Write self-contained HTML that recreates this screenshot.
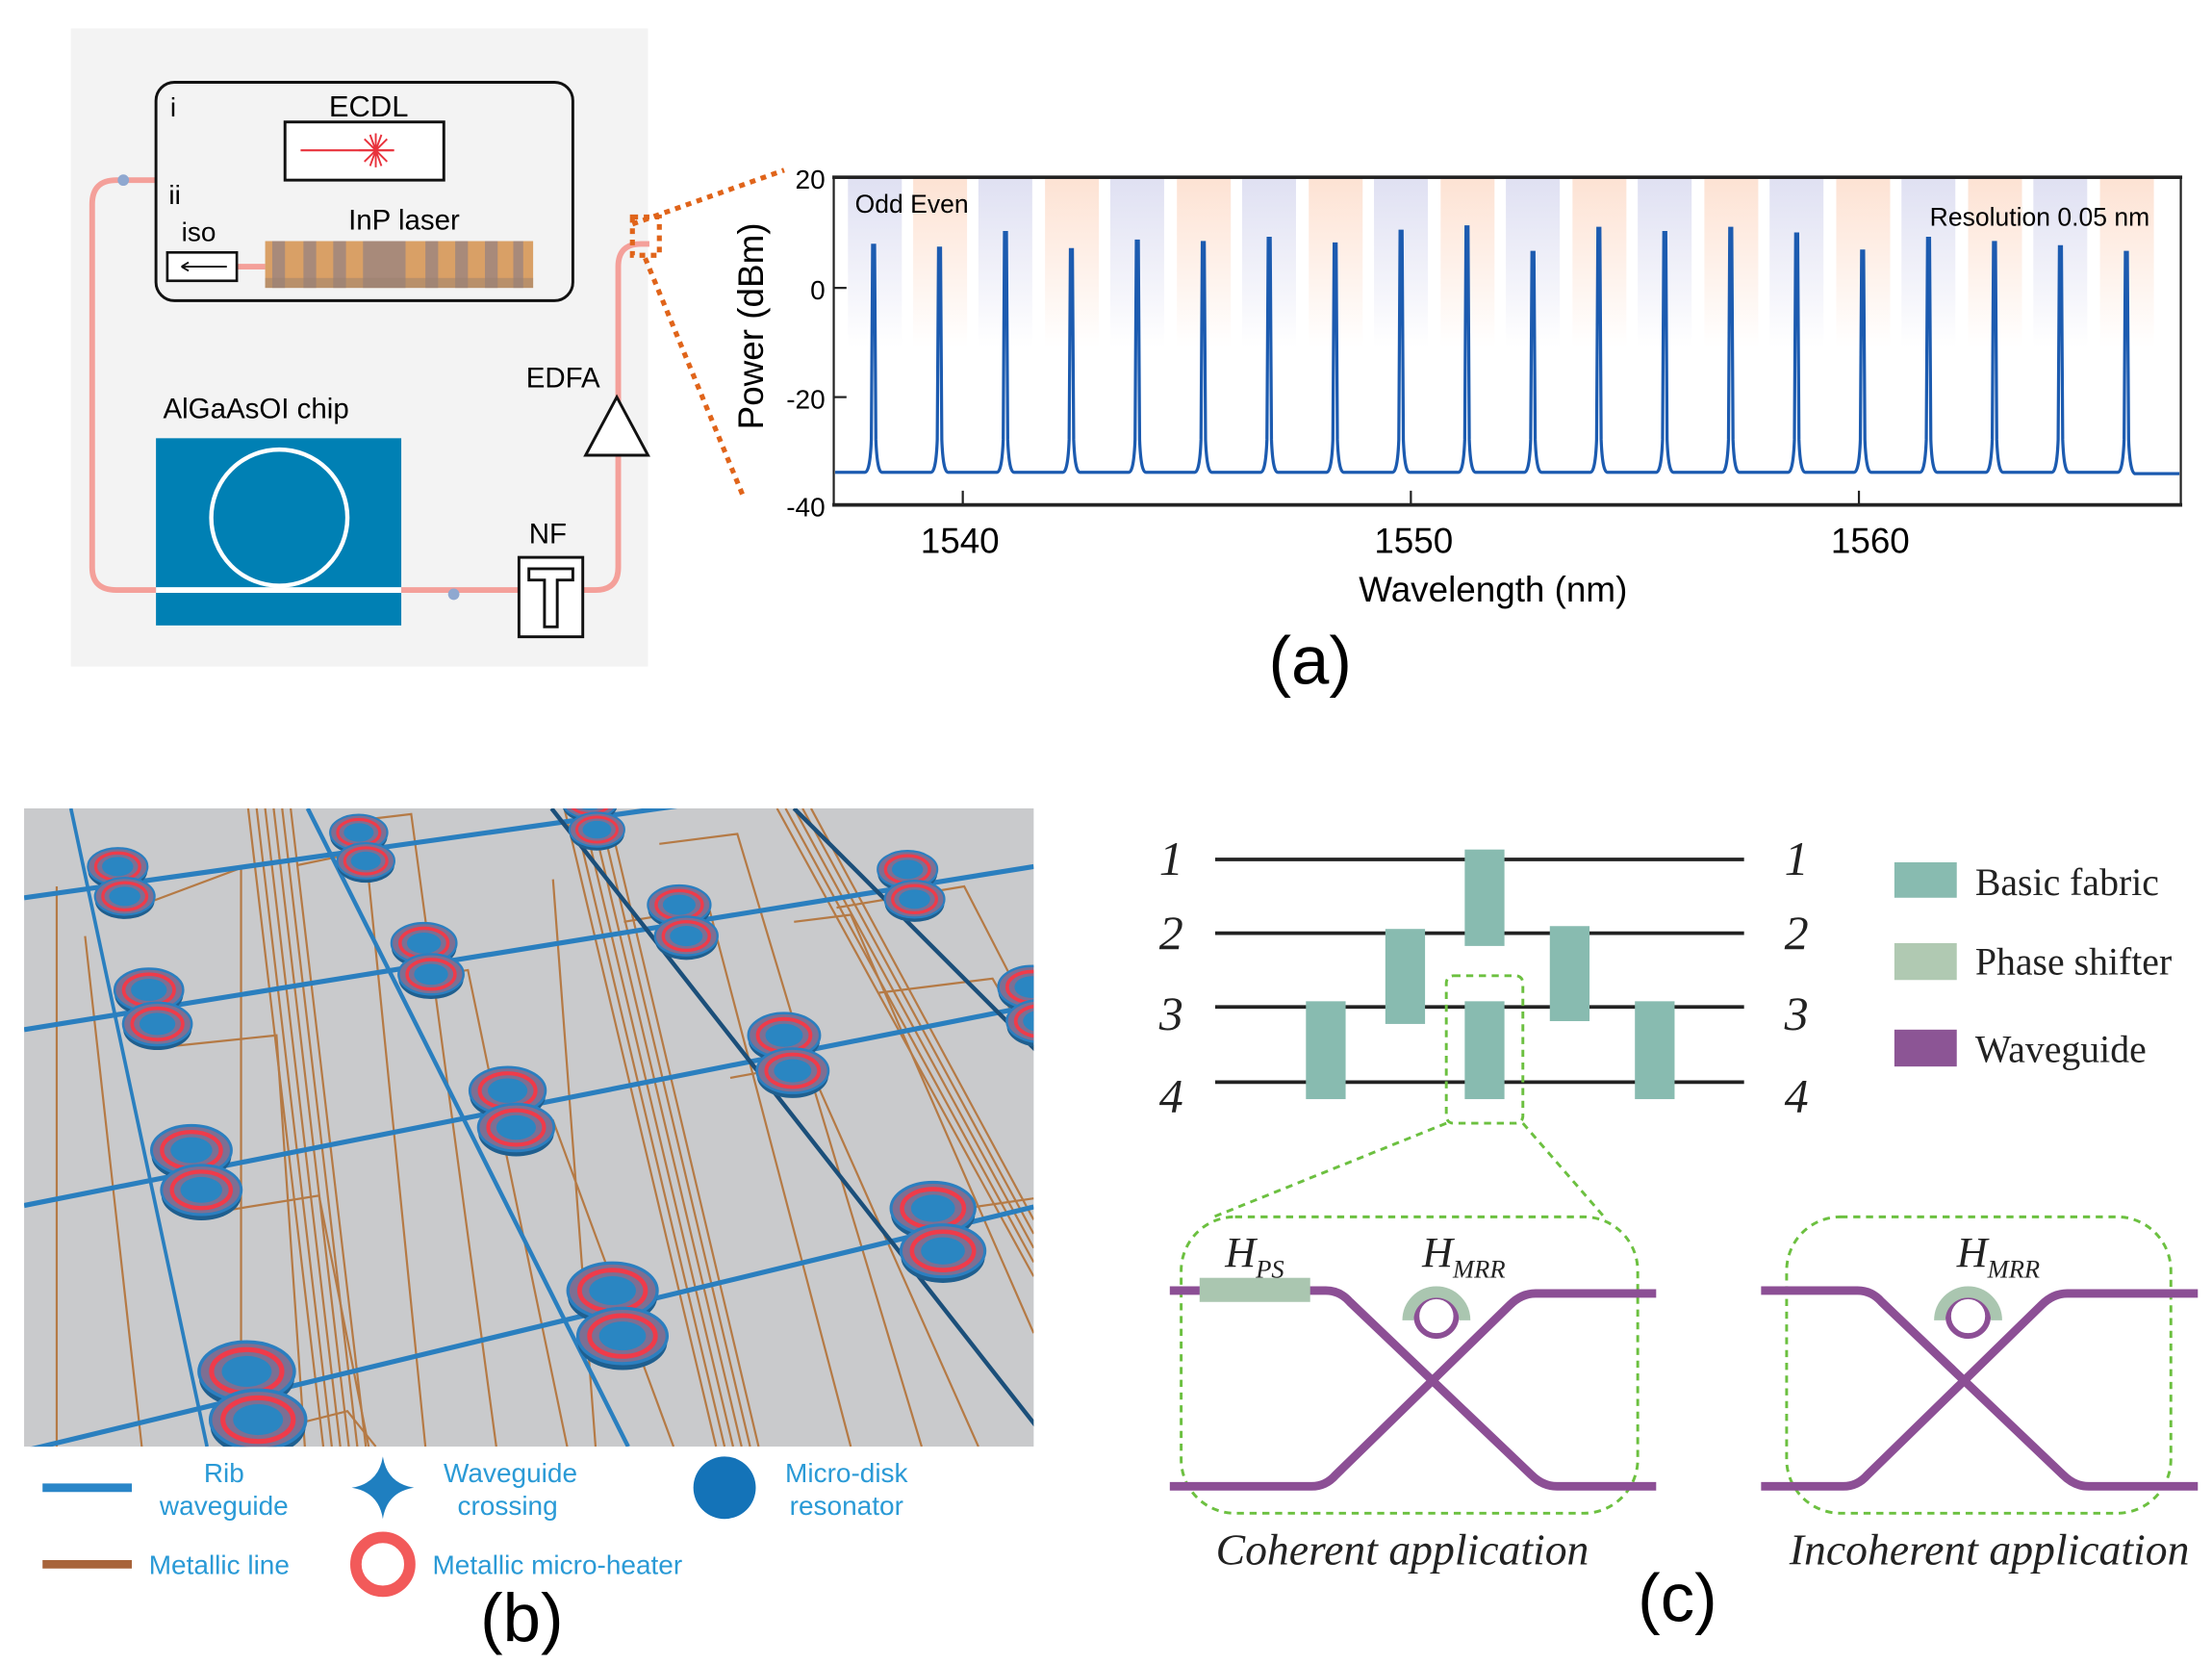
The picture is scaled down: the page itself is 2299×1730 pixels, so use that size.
<!DOCTYPE html>
<html><head><meta charset="utf-8"><style>
html,body{margin:0;padding:0;background:#fff}
svg{display:block;font-family:"Liberation Sans",sans-serif}
.serif{font-family:"Liberation Serif",serif;font-style:italic}
.rom{font-family:"Liberation Serif",serif}
</style></head><body>
<svg width="2299" height="1730" viewBox="0 0 1560 1174" preserveAspectRatio="none" xmlns="http://www.w3.org/2000/svg">
<defs>
<linearGradient id="lav" x1="0" y1="0" x2="0" y2="1"><stop offset="0" stop-color="#dfe0f2"/><stop offset="1" stop-color="#dfe0f2" stop-opacity="0"/></linearGradient>
<linearGradient id="pch" x1="0" y1="0" x2="0" y2="1"><stop offset="0" stop-color="#fde2d3"/><stop offset="1" stop-color="#fde2d3" stop-opacity="0"/></linearGradient>
<clipPath id="bclip"><rect x="17" y="570" width="712" height="450"/></clipPath>
<g id="disk">
<ellipse cx="0" cy="3" rx="21" ry="13" fill="#1f5f8f"/>
<ellipse cx="0" cy="0" rx="21" ry="13" fill="#7d6f93" stroke="#2b7fc0" stroke-width="1.5"/>
<ellipse cx="0" cy="0" rx="15.5" ry="9.6" fill="none" stroke="#ef3b4a" stroke-width="2.2"/>
<ellipse cx="0" cy="0" rx="11" ry="6.8" fill="#2a86c2"/>
</g>
</defs>

<!-- Panel a left -->
<rect x="50" y="20" width="407" height="450" fill="#f3f3f3"/>
<path d="M110 127 L82 127 Q65 127 65 144 L65 400 Q65 416 82 416 L366 416 M411 416 L420 416 Q436 416 436 400 L436 188 Q436 172 452 172 L458 172" fill="none" stroke="#f4a09a" stroke-width="4"/>
<line x1="167" y1="188" x2="187" y2="188" stroke="#f4a09a" stroke-width="4"/>
<circle cx="87" cy="127" r="4" fill="#8fa8d0"/>
<circle cx="320" cy="419" r="4" fill="#8fa8d0"/>
<rect x="110" y="58" width="294" height="154" rx="13" fill="none" stroke="#111" stroke-width="2"/>
<text x="120" y="82" font-size="19">i</text>
<text x="260" y="82" font-size="21" text-anchor="middle">ECDL</text>
<rect x="201" y="86" width="112" height="41" fill="#fff" stroke="#111" stroke-width="2"/>
<line x1="212" y1="106" x2="278" y2="106" stroke="#e8323c" stroke-width="1.5"/>
<g stroke="#e8323c" stroke-width="1.3"><line x1="253" y1="106" x2="277" y2="106"/><line x1="265" y1="94" x2="265" y2="118"/><line x1="257" y1="98" x2="273" y2="114"/><line x1="257" y1="114" x2="273" y2="98"/><line x1="261" y1="95" x2="269" y2="117"/><line x1="269" y1="95" x2="261" y2="117"/></g>
<text x="119" y="144" font-size="19">ii</text>
<text x="128" y="170" font-size="19">iso</text>
<text x="285" y="162" font-size="20" text-anchor="middle">InP laser</text>
<rect x="118" y="178" width="49" height="20" fill="#fff" stroke="#111" stroke-width="1.8"/>
<line x1="128" y1="188" x2="160" y2="188" stroke="#111" stroke-width="1.3"/><path d="M128 188 L133 185 M128 188 L133 191" stroke="#111" stroke-width="1.3"/>
<rect x="187" y="170" width="189" height="33" fill="#d9a066"/>
<g fill="#a88a7a"><rect x="192" y="170" width="9" height="33"/><rect x="214" y="170" width="9" height="33"/><rect x="235" y="170" width="9" height="33"/><rect x="256" y="170" width="30" height="33"/><rect x="300" y="170" width="9" height="33"/><rect x="321" y="170" width="9" height="33"/><rect x="342" y="170" width="9" height="33"/><rect x="362" y="170" width="7" height="33"/></g>
<rect x="187" y="196" width="189" height="7" fill="#9a7f6e" opacity="0.5"/>
<text x="115" y="295" font-size="20">AlGaAsOI chip</text>
<rect x="110" y="309" width="173" height="132" fill="#0080b4"/>
<circle cx="197" cy="365" r="48" fill="none" stroke="#fff" stroke-width="3"/>
<line x1="110" y1="416" x2="283" y2="416" stroke="#fff" stroke-width="4"/>
<text x="371" y="273" font-size="20">EDFA</text>
<path d="M435 280 L413 321 L457 321 Z" fill="#fff" stroke="#111" stroke-width="2"/>
<text x="373" y="383" font-size="20">NF</text>
<rect x="366" y="393" width="45" height="56" fill="#fff" stroke="#111" stroke-width="2"/>
<path d="M373 401 L404 401 L404 409 L393 409 L393 442 L384 442 L384 409 L373 409 Z" fill="none" stroke="#111" stroke-width="2"/>
<g fill="none" stroke="#e0641a" stroke-width="3.5" stroke-dasharray="4 4">
<rect x="446" y="153" width="19" height="27"/>
<line x1="446" y1="158" x2="553" y2="120"/>
<line x1="455" y1="182" x2="525" y2="352"/>
</g>

<!-- Plot -->
<g>
<rect x="598" y="125" width="38" height="120" fill="url(#lav)"/><rect x="644" y="125" width="38" height="120" fill="url(#pch)"/>
<rect x="690" y="125" width="38" height="120" fill="url(#lav)"/><rect x="737" y="125" width="38" height="120" fill="url(#pch)"/>
<rect x="783" y="125" width="38" height="120" fill="url(#lav)"/><rect x="830" y="125" width="38" height="120" fill="url(#pch)"/>
<rect x="876" y="125" width="38" height="120" fill="url(#lav)"/><rect x="923" y="125" width="38" height="120" fill="url(#pch)"/>
<rect x="969" y="125" width="38" height="120" fill="url(#lav)"/><rect x="1016" y="125" width="38" height="120" fill="url(#pch)"/>
<rect x="1062" y="125" width="38" height="120" fill="url(#lav)"/><rect x="1109" y="125" width="38" height="120" fill="url(#pch)"/>
<rect x="1155" y="125" width="38" height="120" fill="url(#lav)"/><rect x="1202" y="125" width="38" height="120" fill="url(#pch)"/>
<rect x="1248" y="125" width="38" height="120" fill="url(#lav)"/><rect x="1295" y="125" width="38" height="120" fill="url(#pch)"/>
<rect x="1341" y="125" width="38" height="120" fill="url(#lav)"/><rect x="1388" y="125" width="38" height="120" fill="url(#pch)"/>
<rect x="1434" y="125" width="38" height="120" fill="url(#lav)"/><rect x="1481" y="125" width="38" height="120" fill="url(#pch)"/>
</g>
<path fill="none" stroke="#1c5bb0" stroke-width="2.2" d="M589 333
L610 333 Q613.6 333 614.5 310 L615.4 173 L616.8 173 L617.7 310 Q618.6 333 622 333
L656.6 333 Q660.1 333 661 310 L661.9 175 L663.3 175 L664.2 310 Q665.1 333 668.6 333
L703.1 333 Q706.6 333 707.5 310 L708.4 164 L709.8 164 L710.7 310 Q711.6 333 715.1 333
L749.6 333 Q753.1 333 754 310 L754.9 176 L756.3 176 L757.2 310 Q758.1 333 761.6 333
L796.1 333 Q799.6 333 800.5 310 L801.4 170 L802.8 170 L803.7 310 Q804.6 333 808.1 333
L842.6 333 Q846.1 333 847 310 L847.9 171 L849.3 171 L850.2 310 Q851.1 333 854.6 333
L889.1 333 Q892.6 333 893.5 310 L894.4 168 L895.8 168 L896.7 310 Q897.6 333 901.1 333
L935.6 333 Q939.1 333 940 310 L940.9 172 L942.3 172 L943.2 310 Q944.1 333 947.6 333
L982.1 333 Q985.6 333 986.5 310 L987.4 163 L988.8 163 L989.7 310 Q990.6 333 994.1 333
L1028.6 333 Q1032.1 333 1033 310 L1033.9 160 L1035.3 160 L1036.2 310 Q1037.1 333 1040.6 333
L1075.1 333 Q1078.6 333 1079.5 310 L1080.4 178 L1081.8 178 L1082.7 310 Q1083.6 333 1087.1 333
L1121.6 333 Q1125.1 333 1126 310 L1126.9 161 L1128.3 161 L1129.2 310 Q1130.1 333 1133.6 333
L1168.1 333 Q1171.6 333 1172.5 310 L1173.4 164 L1174.8 164 L1175.7 310 Q1176.6 333 1180.1 333
L1214.6 333 Q1218.1 333 1219 310 L1219.9 161 L1221.3 161 L1222.2 310 Q1223.1 333 1226.6 333
L1261.1 333 Q1264.6 333 1265.5 310 L1266.4 165 L1267.8 165 L1268.7 310 Q1269.6 333 1273.1 333
L1307.6 333 Q1311.1 333 1312 310 L1312.9 177 L1314.3 177 L1315.2 310 Q1316.1 333 1319.6 333
L1354.1 333 Q1357.6 333 1358.5 310 L1359.4 168 L1360.8 168 L1361.7 310 Q1362.6 333 1366.1 333
L1400.6 333 Q1404.1 333 1405 310 L1405.9 171 L1407.3 171 L1408.2 310 Q1409.1 333 1412.6 333
L1447.1 333 Q1450.6 333 1451.5 310 L1452.4 174 L1453.8 174 L1454.7 310 Q1455.6 333 1459.1 333
L1493.6 333 Q1497.1 333 1498 310 L1498.9 178 L1500.3 178 L1501.2 310 Q1502.1 333 1505.6 334
L1537 334"/>
<line x1="587" y1="125" x2="1539" y2="125" stroke="#222" stroke-width="2.5"/>
<line x1="587" y1="356" x2="1539" y2="356" stroke="#222" stroke-width="2.5"/>
<line x1="588" y1="125" x2="588" y2="356" stroke="#222" stroke-width="1.5"/>
<line x1="1538" y1="125" x2="1538" y2="356" stroke="#222" stroke-width="1.5"/>
<g stroke="#222" stroke-width="1.5"><line x1="588" y1="203" x2="597" y2="203"/><line x1="588" y1="280" x2="597" y2="280"/><line x1="679" y1="356" x2="679" y2="346"/><line x1="995" y1="356" x2="995" y2="346"/><line x1="1311" y1="356" x2="1311" y2="346"/></g>
<g font-size="19" text-anchor="end"><text x="582" y="133">20</text><text x="582" y="211">0</text><text x="582" y="288">-20</text><text x="582" y="364">-40</text></g>
<text x="603" y="150" font-size="18">Odd Even</text>
<text x="1516" y="159" font-size="18" text-anchor="end">Resolution 0.05 nm</text>
<g font-size="25" text-anchor="middle"><text x="677" y="390">1540</text><text x="997" y="390">1550</text><text x="1319" y="390">1560</text></g>
<text x="1053" y="424" font-size="25" text-anchor="middle">Wavelength (nm)</text>
<text transform="translate(538,230) rotate(-90)" font-size="25" text-anchor="middle">Power (dBm)</text>
<text x="924" y="482" font-size="48" text-anchor="middle">(a)</text>

<!-- Panel b -->
<rect x="17" y="570" width="712" height="450" fill="#c9cacc"/>
<g clip-path="url(#bclip)">
<g fill="none" stroke="#b57a45" stroke-width="1.5">
<path d="M175 570 L228 1020 M181 570 L234 1020 M187 570 L240 1020 M193 570 L246 1020 M199 570 L252 1020 M205 570 L258 1020"/>
<path d="M398 570 L505 1020 M404 570 L511 1020 M410 570 L517 1020 M416 570 L523 1020 M422 570 L529 1020 M428 570 L535 1020"/>
<path d="M548 570 L729 900 M554 570 L729 890 M560 570 L729 880 M566 570 L729 870 M572 570 L729 860"/>
<path d="M40 625 L40 1020 M60 660 L100 1020 M95 640 L170 612 L170 1020 M118 738 L195 730 L215 1020 M150 855 L225 843 L260 1020 M185 1010 L245 995 L265 1020"/>
<path d="M210 610 L258 600 L300 1020 M240 580 L290 574 L350 1020 M290 690 L330 684 L400 1020 M345 800 L390 790 L475 1020 M390 620 L420 1020"/>
<path d="M440 650 L500 640 L600 1020 M465 595 L520 588 L650 1020 M515 760 L570 750 L690 1020 M590 640 L680 625 L729 720 M620 700 L700 690 L729 740 M660 855 L729 845"/>
<path d="M560 650 L600 645 L729 940"/>
</g>
<g fill="none" stroke="#2a7fbf" stroke-width="3.5">
<line x1="17" y1="633" x2="729" y2="533"/>
<line x1="17" y1="726" x2="729" y2="611"/>
<line x1="17" y1="850" x2="729" y2="709"/>
<line x1="17" y1="1023" x2="729" y2="851"/>
<line x1="50" y1="570" x2="146" y2="1020" stroke-width="2.5"/>
<line x1="217" y1="570" x2="443" y2="1020" stroke-width="3"/>
<line x1="389" y1="570" x2="742" y2="1020" stroke="#1b4f7a" stroke-width="3"/>
<line x1="560" y1="570" x2="1010" y2="1020" stroke="#1b4f7a" stroke-width="3"/>
</g>
<use href="#disk" transform="translate(83,611) scale(1)"/><use href="#disk" transform="translate(88,632) scale(1)"/>
<use href="#disk" transform="translate(253,587) scale(0.96)"/><use href="#disk" transform="translate(258,607) scale(0.96)"/>
<use href="#disk" transform="translate(416,565) scale(0.92)"/><use href="#disk" transform="translate(421,585) scale(0.92)"/>
<use href="#disk" transform="translate(105,698) scale(1.15)"/><use href="#disk" transform="translate(111,722) scale(1.15)"/>
<use href="#disk" transform="translate(299,665) scale(1.09)"/><use href="#disk" transform="translate(304,687) scale(1.09)"/>
<use href="#disk" transform="translate(479,638) scale(1.05)"/><use href="#disk" transform="translate(484,660) scale(1.05)"/>
<use href="#disk" transform="translate(640,613) scale(1)"/><use href="#disk" transform="translate(645,634) scale(1)"/>
<use href="#disk" transform="translate(135,811) scale(1.34)"/><use href="#disk" transform="translate(142,839) scale(1.34)"/>
<use href="#disk" transform="translate(358,769) scale(1.27)"/><use href="#disk" transform="translate(364,795) scale(1.27)"/>
<use href="#disk" transform="translate(553,730) scale(1.2)"/><use href="#disk" transform="translate(559,755) scale(1.2)"/>
<use href="#disk" transform="translate(728,696) scale(1.14)"/><use href="#disk" transform="translate(734,720) scale(1.14)"/>
<use href="#disk" transform="translate(174,967) scale(1.6)"/><use href="#disk" transform="translate(182,1001) scale(1.6)"/>
<use href="#disk" transform="translate(432,910) scale(1.5)"/><use href="#disk" transform="translate(439,942) scale(1.5)"/>
<use href="#disk" transform="translate(658,852) scale(1.41)"/><use href="#disk" transform="translate(665,882) scale(1.41)"/>
</g>
<g fill="#2a9ad6" font-size="19" text-anchor="middle">
<line x1="30" y1="1049" x2="93" y2="1049" stroke="#2a86c8" stroke-width="6"/>
<text x="158" y="1045">Rib</text><text x="158" y="1068">waveguide</text>
<path d="M270 1027 Q273 1046 292 1049 Q273 1052 270 1071 Q267 1052 248 1049 Q267 1046 270 1027 Z" fill="#1f7fc0"/>
<text x="360" y="1045">Waveguide</text><text x="358" y="1068">crossing</text>
<circle cx="511" cy="1049" r="22" fill="#1473b8"/>
<text x="597" y="1045">Micro-disk</text><text x="597" y="1068">resonator</text>
<line x1="30" y1="1103" x2="93" y2="1103" stroke="#a8643a" stroke-width="6"/>
<text x="105" y="1110" text-anchor="start">Metallic line</text>
<circle cx="270" cy="1103" r="19" fill="none" stroke="#f25a5a" stroke-width="8"/>
<text x="305" y="1110" text-anchor="start">Metallic micro-heater</text>
</g>
<text x="368" y="1157" font-size="48" text-anchor="middle">(b)</text>

<!-- Panel c -->
<g stroke="#222" stroke-width="2.5">
<line x1="857" y1="606" x2="1230" y2="606"/><line x1="857" y1="658" x2="1230" y2="658"/>
<line x1="857" y1="710" x2="1230" y2="710"/><line x1="857" y1="763" x2="1230" y2="763"/>
</g>
<g fill="#88bbb0">
<rect x="1033" y="599" width="28" height="68"/>
<rect x="977" y="655" width="28" height="67"/>
<rect x="1093" y="653" width="28" height="67"/>
<rect x="921" y="706" width="28" height="69"/>
<rect x="1033" y="706" width="28" height="69"/>
<rect x="1153" y="706" width="28" height="69"/>
</g>
<g class="serif" font-size="34" text-anchor="middle" fill="#222">
<text x="826" y="617">1</text><text x="826" y="669">2</text><text x="826" y="726">3</text><text x="826" y="784">4</text>
<text x="1267" y="617">1</text><text x="1267" y="669">2</text><text x="1267" y="726">3</text><text x="1267" y="784">4</text>
</g>
<rect x="1336" y="608" width="44" height="25" fill="#88bbb0"/>
<rect x="1336" y="665" width="44" height="26" fill="#b0c9b2"/>
<rect x="1336" y="726" width="44" height="26" fill="#8c5595"/>
<g class="rom" font-size="27" fill="#222"><text x="1393" y="631">Basic fabric</text><text x="1393" y="687">Phase shifter</text><text x="1393" y="749">Waveguide</text></g>
<g fill="none" stroke="#6cc040" stroke-width="2" stroke-dasharray="5 4">
<rect x="1020" y="688" width="54" height="104" rx="5"/>
<line x1="1020" y1="792" x2="856" y2="858"/>
<line x1="1074" y1="792" x2="1133" y2="860"/>
<rect x="833" y="858" width="322" height="209" rx="38"/>
<rect x="1260" y="858" width="271" height="209" rx="38"/>
</g>
<g fill="none" stroke="#8c4f95" stroke-width="6">
<path d="M825 910 L935 910 Q945 910 952 918 L1080 1040 Q1088 1048 1098 1048 L1168 1048"/>
<path d="M825 1048 L925 1048 Q935 1048 942 1040 L1065 920 Q1073 912 1083 912 L1168 912"/>
<path d="M1242 910 L1310 910 Q1320 910 1327 918 L1455 1040 Q1463 1048 1473 1048 L1550 1048"/>
<path d="M1242 1048 L1300 1048 Q1310 1048 1317 1040 L1440 920 Q1448 912 1458 912 L1550 912"/>
</g>
<g fill="none" stroke-width="4">
<circle cx="1013" cy="928" r="14" stroke="#8c4f95"/>
<path d="M993 931 A20 20 0 0 1 1033 931" stroke="#aac6b0" stroke-width="8"/>
<circle cx="1388" cy="928" r="14" stroke="#8c4f95"/>
<path d="M1368 931 A20 20 0 0 1 1408 931" stroke="#aac6b0" stroke-width="8"/>
</g>
<rect x="846" y="901" width="78" height="17" fill="#aac6b0"/>
<g class="serif" fill="#222">
<text x="864" y="893" font-size="30">H<tspan font-size="18" dy="8">PS</tspan></text>
<text x="1003" y="893" font-size="30">H<tspan font-size="18" dy="8">MRR</tspan></text>
<text x="1380" y="893" font-size="30">H<tspan font-size="18" dy="8">MRR</tspan></text>
<text x="989" y="1103" font-size="31" text-anchor="middle">Coherent application</text>
<text x="1403" y="1103" font-size="31" text-anchor="middle">Incoherent application</text>
</g>
<text x="1183" y="1143" font-size="48" text-anchor="middle">(c)</text>
</svg>
</body></html>
